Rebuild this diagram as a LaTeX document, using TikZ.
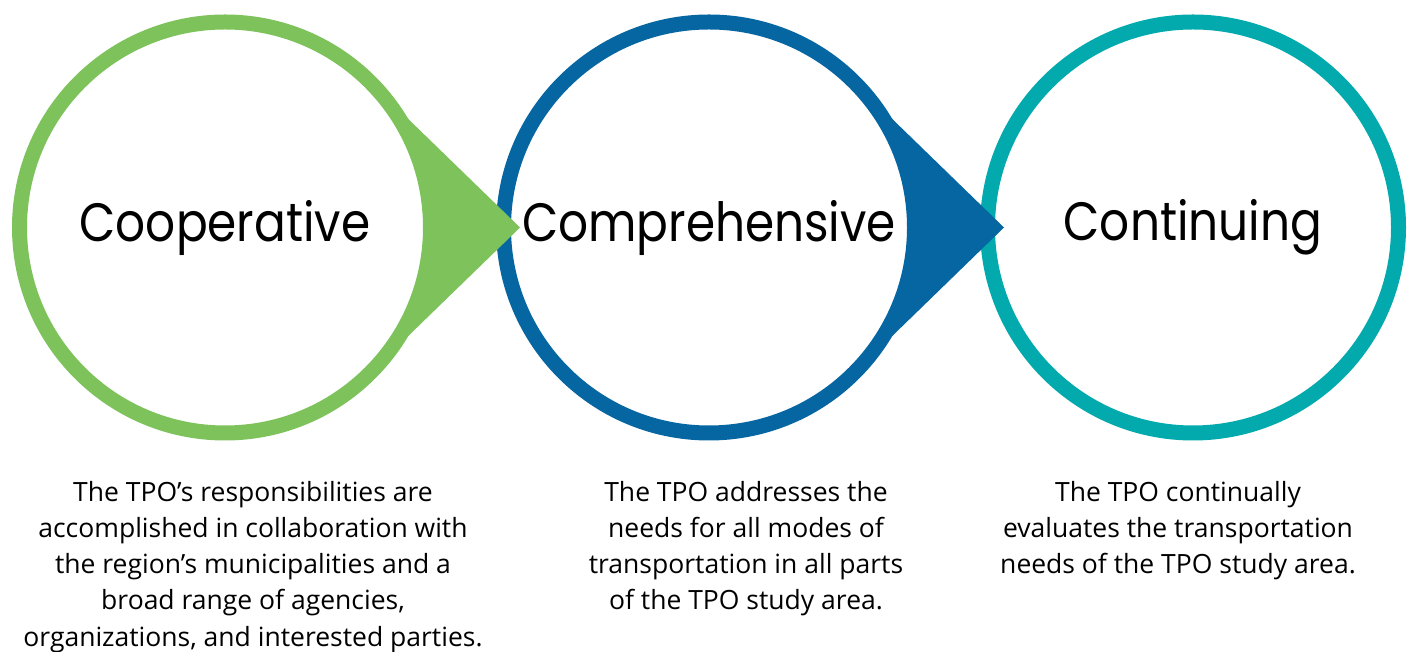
\documentclass[tikz,border=0pt]{standalone}
\usepackage{fontspec}
\setmainfont{Open Sans}
\newfontfamily\titlefont[FakeStretch=0.87]{Poppins}
\usetikzlibrary{positioning, calc}

\definecolor{cpgreen}{HTML}{7DC25B}
\definecolor{cpblue}{HTML}{0666A2}
\definecolor{cpteal}{HTML}{02AAAD}

\begin{document}
\begin{tikzpicture}[x=1pt, y=1pt,
	ring/.style={circle, draw=#1, fill=white, line width=15pt, minimum size=411pt,
		inner sep=0pt, outer sep=0pt, font=\titlefont\fontsize{54}{60}\selectfont},
	desc/.style={align=center, anchor=north, inner sep=0pt,
		font=\fontsize{26.5}{36.2}\selectfont}]
	\useasboundingbox (0,0) rectangle (1411,652);

	\node[ring=cpgreen] (coop) at (225,424.5) {Cooperative};
	\node[ring=cpblue, right=73pt of coop] (comp) {Comprehensive};
	\node[ring=cpteal, right=73pt of comp] (cont) {Continuing};

	\foreach \from/\col in {coop/cpgreen, comp/cpblue}
		\fill[\col] ($(\from)+(45.85:205.5)$) -- ($(\from)+(295,0)$)
			-- ($(\from)+(-45.85:205.5)$) arc[start angle=-45.85, end angle=45.85, radius=205.5]
			-- cycle;

	\node[desc] (coopdesc) at (253,171) {The TPO’s responsibilities are\\
		accomplished in collaboration with\\the region’s municipalities and a\\
		broad range of agencies,\\organizations, and interested parties.};
	\node[desc] (compdesc) at (746,171)
		{The TPO addresses the\\needs for all modes of\\transportation in all parts\\of the TPO study area.};
	\node[desc] (contdesc) at (1178,171)
		{The TPO continually\\evaluates the transportation\\needs of the TPO study area.};
\end{tikzpicture}
\end{document}
